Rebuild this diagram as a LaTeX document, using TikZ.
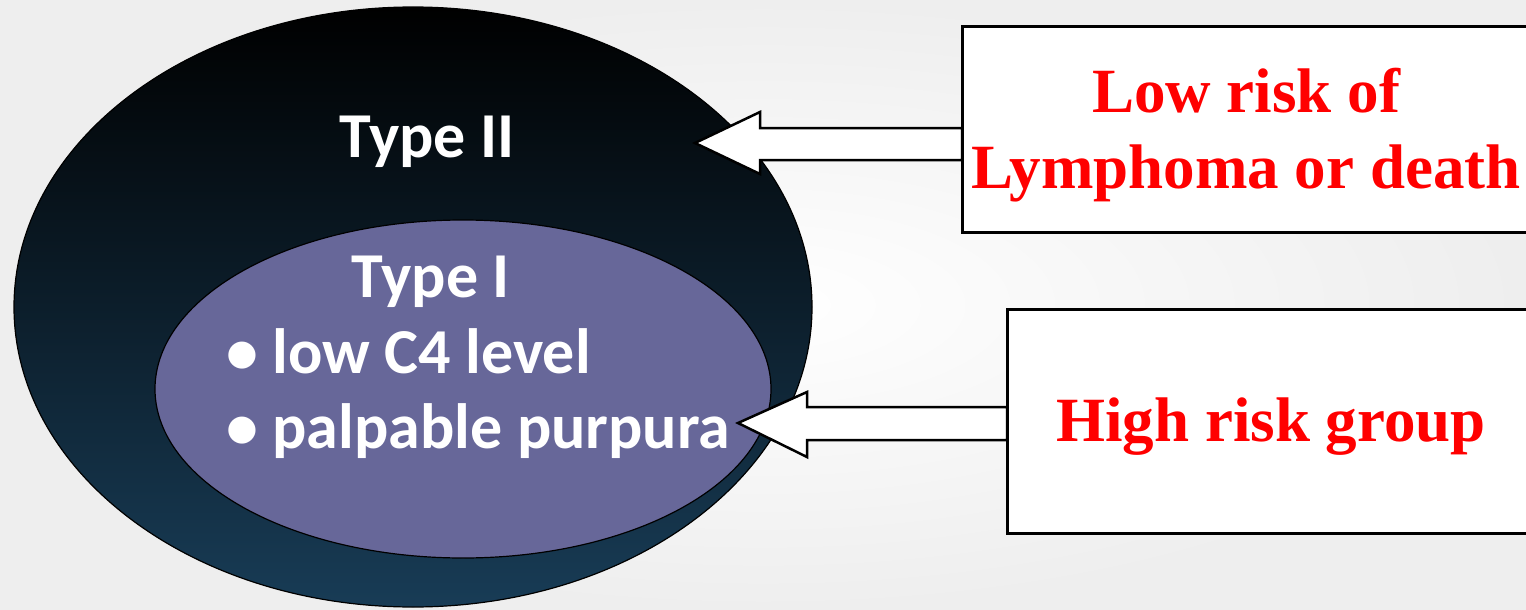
\documentclass[tikz,border=0pt]{standalone}
\usepackage{fontspec}
\setmainfont{Liberation Serif}
\newfontfamily\calibri{Carlito}
\usetikzlibrary{shapes.geometric,calc}
\definecolor{outertop}{RGB}{0,0,0}
\definecolor{outerbot}{RGB}{24,60,86}
\definecolor{innerfill}{RGB}{103,103,153}
\definecolor{riskred}{RGB}{255,0,0}
\definecolor{bgout}{RGB}{238,238,238}
\begin{document}
\begin{tikzpicture}[x=1pt,y=-1pt,
  whitetxt/.style={text=white,font=\calibri\bfseries\fontsize{64}{76}\selectfont,inner sep=0pt,anchor=base},
  redtxt/.style={text=riskred,font=\bfseries\fontsize{63}{76}\selectfont,align=center,inner sep=0pt,anchor=base},
  riskbox/.style={draw=black,line width=3pt,fill=white,anchor=north west,inner sep=0pt,outer sep=0pt},
  blockarrow/.style={draw=black,line width=2.5pt,fill=white,line join=miter},
  bubble/.style={ellipse,inner sep=0pt,outer sep=0pt,draw=black,line width=1.2pt}]
\useasboundingbox (0,0) rectangle (1526,610);
\clip (0,0) rectangle (1526,610);
% background
\shade[inner color=white,outer color=bgout] (0,0) rectangle (1526,610);
% ellipses
\node[bubble,minimum width=798,minimum height=600,top color=outertop,bottom color=outerbot] (outer) at (413,307) {};
\node[bubble,minimum width=616,minimum height=338,fill=innerfill] (inner) at (463,389) {};
% white texts
\node[whitetxt] (t2) at (427,157) {Type II};
\node[whitetxt] (t1) at (431,297) {Type I};
\node[whitetxt,anchor=base west] (c4) at (226,373) {• low C4 level};
\node[whitetxt,anchor=base west] (pp) at (226,448) {• palpable purpura};
% boxes
\node[riskbox,minimum width=568,minimum height=205] (b1) at (962,27) {};
\node[riskbox,minimum width=523,minimum height=224] (b2) at (1007,309) {};
% arrows
\coordinate (tip1) at (695,143);
\coordinate (tip2) at (738,423);
\draw[blockarrow] (tip1) -- (760,112) -- (760,128) -- (b1.west |- 0,128) -- (b1.west |- 0,160) -- (760,160) -- (760,174) -- cycle;
\draw[blockarrow] (tip2) -- (807,392) -- (807,407) -- (b2.west |- 0,407) -- (b2.west |- 0,440) -- (807,440) -- (807,457) -- cycle;
\draw[black,line width=3pt] (b1.north west) -- (b1.south west);
\draw[black,line width=3pt] (b2.north west) -- (b2.south west);
% red texts
\node[redtxt] (low) at (1246,188) {Low risk of\\Lymphoma or death};
\node[redtxt] (high) at (1271,441) {High risk group};
\end{tikzpicture}
\end{document}
